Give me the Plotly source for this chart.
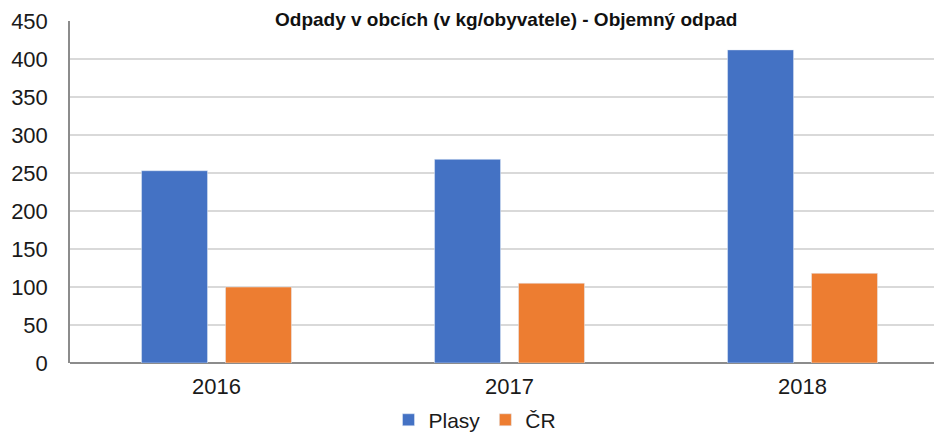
import plotly.graph_objects as go

years = ["2016", "2017", "2018"]
plasy = [253, 268, 412]
cr = [100, 105, 118]
title_text = "Odpady v obcích (v kg/obyvatele) - Objemný odpad"
y_ticks = [0, 50, 100, 150, 200, 250, 300, 350, 400, 450]

fig = go.Figure()
fig.add_trace(go.Bar(name="Plasy", x=years, y=plasy, marker_color="#4472C4"))
fig.add_trace(go.Bar(name="ČR", x=years, y=cr, marker_color="#ED7D31"))

fig.update_layout(
    width=934, height=424,
    margin=dict(l=62, r=0, t=13, b=69, autoexpand=False),
    paper_bgcolor="white", plot_bgcolor="white",
    barmode="group", bargap=0.427, bargroupgap=0.214,
    font=dict(family="Liberation Sans, Arial", size=22, color="#1a1a1a"),
    showlegend=True,
    legend=dict(orientation="h", x=0.5, xref="container", xanchor="center",
                y=0.028, yref="container", yanchor="middle",
                font=dict(size=21), tracegroupgap=0),
)
fig.add_annotation(text="<b>" + title_text + "</b>", xref="paper", yref="paper",
                   x=0.5, y=1.037, xanchor="center", yanchor="top", showarrow=False,
                   borderpad=0,
                   font=dict(family="Liberation Sans, Arial", size=19, color="#111"))
fig.update_xaxes(range=[-0.5, 2.476], showline=False, ticks="", automargin=False,
                 ticklabelstandoff=8, tickfont=dict(size=22))
fig.update_yaxes(range=[0, 450], tickvals=y_ticks, showgrid=True, gridcolor="#d9d9d9",
                 gridwidth=1.5, showline=True, linecolor="#8c8c8c", linewidth=1.5,
                 zeroline=True, zerolinecolor="#8c8c8c", zerolinewidth=2, automargin=False,
                 ticks="", ticklabelstandoff=16, tickfont=dict(size=22))

fig.write_html("out.html")
